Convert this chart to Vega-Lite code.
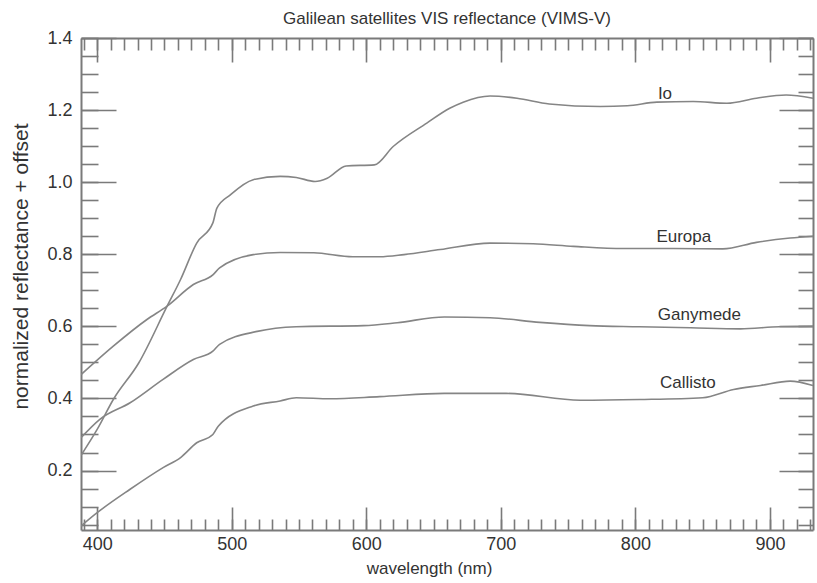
{
  "$schema": "https://vega.github.io/schema/vega-lite/v6.json",
  "width": 732,
  "height": 492,
  "autosize": {"type": "none"},
  "padding": {"left": 81, "top": 38, "right": 4, "bottom": 53},
  "background": "white",
  "title": {"text": "Galilean satellites VIS reflectance (VIMS-V)", "fontSize": 17, "font": "Liberation Sans", "fontWeight": "normal", "color": "#333333", "offset": 1, "anchor": "middle"},
  "config": {
    "view": {"stroke": null},
    "axis": {"grid": false, "domainColor": "#7a7a7a", "tickColor": "#7a7a7a", "domainWidth": 2, "tickWidth": 1.6, "labelFont": "Liberation Sans", "titleFont": "Liberation Sans", "labelColor": "#333333", "titleColor": "#333333", "labelFontSize": 18, "titleFontWeight": "normal", "labelOverlap": false, "labelFlush": false}
  },
  "datasets": {
    "lines": [
      {"moon": "Io", "wl": 388, "r": 0.242}, {"moon": "Io", "wl": 400, "r": 0.314}, {"moon": "Io", "wl": 412, "r": 0.397}, {"moon": "Io", "wl": 431, "r": 0.499}, {"moon": "Io", "wl": 452, "r": 0.656}, {"moon": "Io", "wl": 462, "r": 0.73}, {"moon": "Io", "wl": 474, "r": 0.831}, {"moon": "Io", "wl": 486, "r": 0.887}, {"moon": "Io", "wl": 489, "r": 0.928}, {"moon": "Io", "wl": 499, "r": 0.965}, {"moon": "Io", "wl": 516, "r": 1.007}, {"moon": "Io", "wl": 536, "r": 1.016}, {"moon": "Io", "wl": 548, "r": 1.013}, {"moon": "Io", "wl": 562, "r": 1.002}, {"moon": "Io", "wl": 571, "r": 1.011}, {"moon": "Io", "wl": 585, "r": 1.045}, {"moon": "Io", "wl": 606, "r": 1.048}, {"moon": "Io", "wl": 620, "r": 1.099}, {"moon": "Io", "wl": 645, "r": 1.164}, {"moon": "Io", "wl": 662, "r": 1.205}, {"moon": "Io", "wl": 672, "r": 1.222}, {"moon": "Io", "wl": 692, "r": 1.239}, {"moon": "Io", "wl": 712, "r": 1.233}, {"moon": "Io", "wl": 736, "r": 1.217}, {"moon": "Io", "wl": 774, "r": 1.21}, {"moon": "Io", "wl": 794, "r": 1.212}, {"moon": "Io", "wl": 816, "r": 1.222}, {"moon": "Io", "wl": 843, "r": 1.224}, {"moon": "Io", "wl": 868, "r": 1.219}, {"moon": "Io", "wl": 890, "r": 1.233}, {"moon": "Io", "wl": 912, "r": 1.242}, {"moon": "Io", "wl": 932, "r": 1.233},
      {"moon": "Europa", "wl": 388, "r": 0.466}, {"moon": "Europa", "wl": 412, "r": 0.545}, {"moon": "Europa", "wl": 437, "r": 0.619}, {"moon": "Europa", "wl": 452, "r": 0.656}, {"moon": "Europa", "wl": 471.5, "r": 0.716}, {"moon": "Europa", "wl": 486, "r": 0.743}, {"moon": "Europa", "wl": 491, "r": 0.762}, {"moon": "Europa", "wl": 516, "r": 0.799}, {"moon": "Europa", "wl": 536, "r": 0.805}, {"moon": "Europa", "wl": 561, "r": 0.804}, {"moon": "Europa", "wl": 590, "r": 0.793}, {"moon": "Europa", "wl": 610, "r": 0.793}, {"moon": "Europa", "wl": 628, "r": 0.799}, {"moon": "Europa", "wl": 655, "r": 0.813}, {"moon": "Europa", "wl": 692, "r": 0.831}, {"moon": "Europa", "wl": 724, "r": 0.829}, {"moon": "Europa", "wl": 754, "r": 0.822}, {"moon": "Europa", "wl": 791, "r": 0.816}, {"moon": "Europa", "wl": 828, "r": 0.816}, {"moon": "Europa", "wl": 865, "r": 0.815}, {"moon": "Europa", "wl": 890, "r": 0.833}, {"moon": "Europa", "wl": 915, "r": 0.845}, {"moon": "Europa", "wl": 932, "r": 0.85},
      {"moon": "Ganymede", "wl": 388, "r": 0.291}, {"moon": "Ganymede", "wl": 402, "r": 0.342}, {"moon": "Ganymede", "wl": 424.5, "r": 0.388}, {"moon": "Ganymede", "wl": 449, "r": 0.453}, {"moon": "Ganymede", "wl": 471.5, "r": 0.508}, {"moon": "Ganymede", "wl": 486, "r": 0.531}, {"moon": "Ganymede", "wl": 491, "r": 0.55}, {"moon": "Ganymede", "wl": 519, "r": 0.586}, {"moon": "Ganymede", "wl": 548, "r": 0.599}, {"moon": "Ganymede", "wl": 598, "r": 0.602}, {"moon": "Ganymede", "wl": 623, "r": 0.61}, {"moon": "Ganymede", "wl": 658, "r": 0.626}, {"moon": "Ganymede", "wl": 692, "r": 0.624}, {"moon": "Ganymede", "wl": 729, "r": 0.611}, {"moon": "Ganymede", "wl": 766, "r": 0.602}, {"moon": "Ganymede", "wl": 803, "r": 0.599}, {"moon": "Ganymede", "wl": 841, "r": 0.596}, {"moon": "Ganymede", "wl": 878, "r": 0.593}, {"moon": "Ganymede", "wl": 907, "r": 0.599}, {"moon": "Ganymede", "wl": 932, "r": 0.6},
      {"moon": "Callisto", "wl": 388, "r": 0.046}, {"moon": "Callisto", "wl": 400, "r": 0.083}, {"moon": "Callisto", "wl": 424.5, "r": 0.148}, {"moon": "Callisto", "wl": 449, "r": 0.208}, {"moon": "Callisto", "wl": 462, "r": 0.236}, {"moon": "Callisto", "wl": 474, "r": 0.277}, {"moon": "Callisto", "wl": 486, "r": 0.3}, {"moon": "Callisto", "wl": 490, "r": 0.323}, {"moon": "Callisto", "wl": 516, "r": 0.379}, {"moon": "Callisto", "wl": 536, "r": 0.393}, {"moon": "Callisto", "wl": 548, "r": 0.402}, {"moon": "Callisto", "wl": 573, "r": 0.399}, {"moon": "Callisto", "wl": 610, "r": 0.405}, {"moon": "Callisto", "wl": 658, "r": 0.414}, {"moon": "Callisto", "wl": 704, "r": 0.414}, {"moon": "Callisto", "wl": 759, "r": 0.395}, {"moon": "Callisto", "wl": 803, "r": 0.397}, {"moon": "Callisto", "wl": 850, "r": 0.402}, {"moon": "Callisto", "wl": 873, "r": 0.425}, {"moon": "Callisto", "wl": 893, "r": 0.436}, {"moon": "Callisto", "wl": 915, "r": 0.448}, {"moon": "Callisto", "wl": 932, "r": 0.436}
    ],
    "labels": [
      {"label": "Io", "wl": 822, "r": 1.245},
      {"label": "Europa", "wl": 836, "r": 0.849},
      {"label": "Ganymede", "wl": 847.6, "r": 0.631},
      {"label": "Callisto", "wl": 839, "r": 0.443}
    ]
  },
  "resolve": {"axis": {"x": "independent", "y": "independent"}},
  "layer": [
    {
      "data": {"name": "lines"},
      "mark": {"type": "line", "color": "#858585", "strokeWidth": 1.6, "clip": true, "interpolate": "monotone"},
      "encoding": {
        "x": {"field": "wl", "type": "quantitative", "scale": {"domain": [388, 932], "nice": false, "zero": false},
          "axis": {"orient": "bottom", "values": [400, 500, 600, 700, 800, 900], "format": "d", "tickSize": -23, "labelPadding": 28, "title": "wavelength (nm)", "titleFontSize": 17, "titleX": 348, "titleY": 43, "titleBaseline": "alphabetic", "titleAlign": "center"}},
        "y": {"field": "r", "type": "quantitative", "scale": {"domain": [0.035, 1.4], "nice": false, "zero": false},
          "axis": {"orient": "left", "values": [0.2, 0.4, 0.6, 0.8, 1.0, 1.2, 1.4], "format": ".1f", "ticks": false, "labelPadding": 9, "title": "normalized reflectance + offset", "titleFontSize": 21, "titleX": -54, "titleY": 228, "titleBaseline": "alphabetic", "titleAlign": "center", "titleAngle": 270}},
        "detail": {"field": "moon"}
      }
    },
    {
      "data": {"name": "lines"},
      "mark": {"type": "line", "strokeOpacity": 0},
      "encoding": {
        "x": {"field": "wl", "type": "quantitative", "scale": {"domain": [388, 932], "nice": false, "zero": false},
          "axis": {"orient": "bottom", "values": [390, 400, 410, 420, 430, 440, 450, 460, 470, 480, 490, 500, 510, 520, 530, 540, 550, 560, 570, 580, 590, 600, 610, 620, 630, 640, 650, 660, 670, 680, 690, 700, 710, 720, 730, 740, 750, 760, 770, 780, 790, 800, 810, 820, 830, 840, 850, 860, 870, 880, 890, 900, 910, 920, 930], "tickSize": -11, "labels": false, "domain": false, "title": null}},
        "y": {"field": "r", "type": "quantitative", "scale": {"domain": [0.035, 1.4], "nice": false, "zero": false},
          "axis": {"orient": "left", "values": [0.05, 0.1, 0.15, 0.2, 0.25, 0.3, 0.35, 0.4, 0.45, 0.5, 0.55, 0.6, 0.65, 0.7, 0.75, 0.8, 0.85, 0.9, 0.95, 1.0, 1.05, 1.1, 1.15, 1.2, 1.25, 1.3, 1.35, 1.4], "tickSize": -17, "labels": false, "domain": false, "title": null}},
        "detail": {"field": "moon"}
      }
    },
    {
      "data": {"name": "lines"},
      "mark": {"type": "line", "strokeOpacity": 0},
      "encoding": {
        "x": {"field": "wl", "type": "quantitative", "scale": {"domain": [388, 932], "nice": false, "zero": false},
          "axis": {"orient": "top", "values": [400, 500, 600, 700, 800, 900], "tickSize": -24, "labels": false, "title": null}},
        "y": {"field": "r", "type": "quantitative", "scale": {"domain": [0.035, 1.4], "nice": false, "zero": false},
          "axis": {"orient": "right", "values": [0.2, 0.4, 0.6, 0.8, 1.0, 1.2, 1.4], "tickSize": -34, "labels": false, "title": null}},
        "detail": {"field": "moon"}
      }
    },
    {
      "data": {"name": "lines"},
      "mark": {"type": "line", "strokeOpacity": 0},
      "encoding": {
        "x": {"field": "wl", "type": "quantitative", "scale": {"domain": [388, 932], "nice": false, "zero": false},
          "axis": {"orient": "top", "values": [390, 400, 410, 420, 430, 440, 450, 460, 470, 480, 490, 500, 510, 520, 530, 540, 550, 560, 570, 580, 590, 600, 610, 620, 630, 640, 650, 660, 670, 680, 690, 700, 710, 720, 730, 740, 750, 760, 770, 780, 790, 800, 810, 820, 830, 840, 850, 860, 870, 880, 890, 900, 910, 920, 930], "tickSize": -12, "labels": false, "domain": false, "title": null}},
        "y": {"field": "r", "type": "quantitative", "scale": {"domain": [0.035, 1.4], "nice": false, "zero": false},
          "axis": {"orient": "right", "values": [0.05, 0.1, 0.15, 0.2, 0.25, 0.3, 0.35, 0.4, 0.45, 0.5, 0.55, 0.6, 0.65, 0.7, 0.75, 0.8, 0.85, 0.9, 0.95, 1.0, 1.05, 1.1, 1.15, 1.2, 1.25, 1.3, 1.35, 1.4], "tickSize": -15, "labels": false, "domain": false, "title": null}},
        "detail": {"field": "moon"}
      }
    },
    {
      "data": {"name": "lines"},
      "mark": {"type": "line", "strokeOpacity": 0},
      "encoding": {
        "x": {"field": "wl", "type": "quantitative", "scale": {"domain": [388, 932], "nice": false, "zero": false}, "axis": null},
        "y": {"field": "r", "type": "quantitative", "scale": {"domain": [0.035, 1.4], "nice": false, "zero": false},
          "axis": {"orient": "left", "values": [0.2, 0.4, 0.6, 0.8, 1.0, 1.2, 1.4], "tickSize": -35, "labels": false, "domain": false, "title": null}},
        "detail": {"field": "moon"}
      }
    },
    {
      "data": {"name": "labels"},
      "mark": {"type": "text", "font": "Liberation Sans", "fontSize": 17, "color": "#333333", "align": "center", "baseline": "middle"},
      "encoding": {
        "x": {"field": "wl", "type": "quantitative", "scale": {"domain": [388, 932], "nice": false, "zero": false}, "axis": null},
        "y": {"field": "r", "type": "quantitative", "scale": {"domain": [0.035, 1.4], "nice": false, "zero": false}, "axis": null},
        "text": {"field": "label"}
      }
    }
  ]
}
